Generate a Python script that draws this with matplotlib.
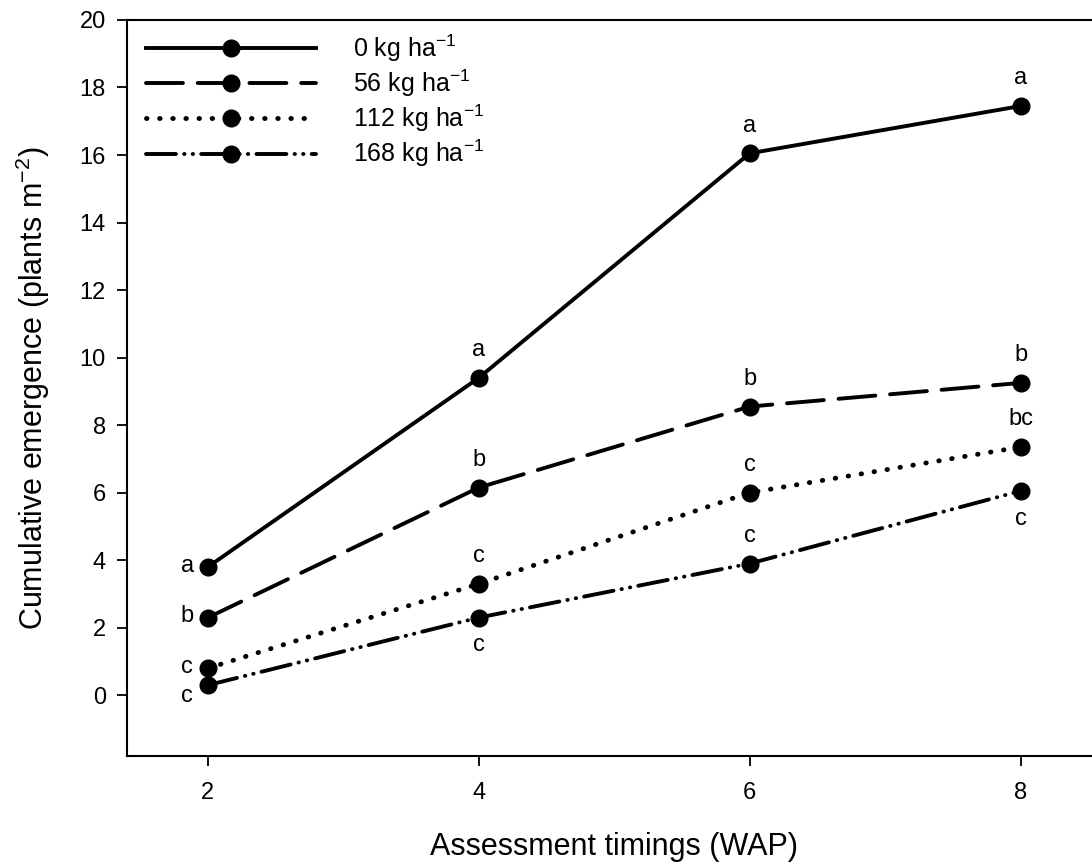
import numpy as np
import matplotlib
matplotlib.use("Agg")
import matplotlib.pyplot as plt

plt.rcParams['font.family'] = ['Liberation Sans', 'DejaVu Sans']
plt.rcParams['mathtext.fontset'] = 'custom'
plt.rcParams['mathtext.rm'] = 'Liberation Sans'

# === data ===
wap = [2, 4, 6, 8]
rate_labels = ["0 kg ha$^{-1}$", "56 kg ha$^{-1}$", "112 kg ha$^{-1}$", "168 kg ha$^{-1}$"]
emerg_0 = [3.8, 9.4, 16.05, 17.45]
emerg_56 = [2.3, 6.15, 8.55, 9.25]
emerg_112 = [0.8, 3.3, 6.0, 7.35]
emerg_168 = [0.3, 2.3, 3.9, 6.05]

# mean separation letters
letters_0 = ["a", "a", "a", "a"]
letters_56 = ["b", "b", "b", "b"]
letters_112 = ["c", "c", "c", "bc"]
letters_168 = ["c", "c", "c", "c"]
# where each letter goes: L = left, U = above, D = below
place_0 = ["L", "U", "U", "U"]
place_56 = ["L", "U", "U", "U"]
place_112 = ["L", "U", "U", "U"]
place_168 = ["LD", "D", "U", "D"]

series = [emerg_0, emerg_56, emerg_112, emerg_168]
letters = [letters_0, letters_56, letters_112, letters_168]
places = [place_0, place_56, place_112, place_168]
styles = ["-", (0, (9.5, 3.8)), (0, (0.1, 2.6)), (0, (7.7, 2.1, 0.1, 2.1, 0.1, 2.1))]
widths = [2.8, 2.8, 3.5, 2.8]

offsets = {"U": (0, 20), "D": (0, -20), "L": (-15, 1), "LD": (-15, -8)}

fig = plt.figure(figsize=(10.92, 8.67), dpi=100)
ax = fig.add_axes([0.116, 0.128, 0.893, 0.849])

for y, lab, ls, lw in zip(series, rate_labels, styles, widths):
    ax.plot(wap, y, color="black", linestyle=ls, linewidth=lw,
            dash_capstyle="round", marker="o", markersize=12, label=lab)

for y, lets, pl in zip(series, letters, places):
    for xv, yv, t, p in zip(wap, y, lets, pl):
        ax.annotate(t, (xv, yv), xytext=offsets[p], textcoords="offset points",
                    ha="center", va="center", fontsize=17)

ax.set_xlim(1.4, 8.6)
ax.set_ylim(-1.8, 20)
ax.set_xticks(wap)
ax.set_yticks(np.arange(0, 21, 2))
ax.tick_params(direction="out", length=7, width=1.3, labelsize=17)
ax.tick_params(axis="x", pad=12)
ax.tick_params(axis="y", pad=8)
for s in ax.spines.values():
    s.set_linewidth(1.5)

ax.set_xlabel("Assessment timings (WAP)", fontsize=22, labelpad=20)
ax.set_ylabel("Cumulative emergence (plants m$^{-2}$)", fontsize=22, labelpad=20)

ax.legend(loc="upper left", bbox_to_anchor=(0.007, 1.0), frameon=False,
          fontsize=18, handlelength=6.8, handletextpad=1.5, labelspacing=0.15,
          borderaxespad=0.1)

fig.savefig("out.png", dpi=100)
